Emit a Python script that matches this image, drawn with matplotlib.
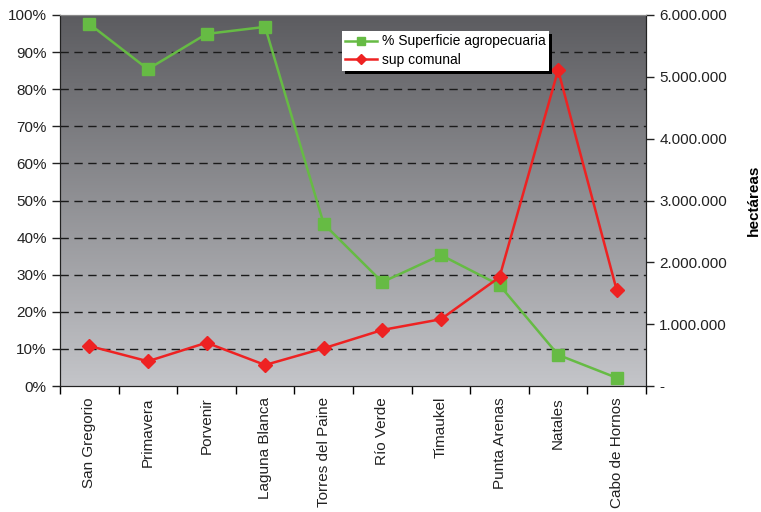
import matplotlib.pyplot as plt
import numpy as np
from matplotlib.ticker import FuncFormatter, MultipleLocator

plt.rcParams['font.family'] = ['Liberation Sans', 'DejaVu Sans']

comunas = ["San Gregorio", "Primavera", "Porvenir", "Laguna Blanca", "Torres del Paine",
           "Río Verde", "Timaukel", "Punta Arenas", "Natales", "Cabo de Hornos"]
pct_agro = [97.6, 85.4, 94.9, 96.8, 43.7, 28.0, 35.3, 27.2, 8.4, 2.2]
sup_comunal = [647000, 400000, 700000, 340000, 610000, 906000, 1080000, 1760000, 5110000, 1550000]

fig = plt.figure(figsize=(7.61, 5.12), dpi=100)
ax = fig.add_axes([60 / 761, 1 - 386 / 512, 586 / 761, 371 / 512])
ax2 = ax.twinx()

x = np.arange(len(comunas))

# gradient background
grad = np.linspace(0, 1, 256).reshape(-1, 1)
top = np.array([92, 92, 96]) / 255
bot = np.array([196, 197, 201]) / 255
img = top + (bot - top) * grad[..., None]
ax.imshow(img, extent=[0, 1, 0, 1], transform=ax.transAxes, aspect='auto', zorder=0)

ax.set_xlim(-0.5, len(comunas) - 0.5)
ax.set_ylim(0, 100)
for v in range(10, 100, 10):
    ax.axhline(v, color='#1a1a1a', lw=1, ls=(0, (6, 4)), zorder=1)

l1, = ax.plot(x, pct_agro, color='#66bb44', marker='s', ms=8, lw=1.8, zorder=3,
              label='% Superficie agropecuaria')
ax2.set_ylim(0, 6000000)
l2, = ax2.plot(x, sup_comunal, color='#ee2222', marker='D', ms=7, lw=1.8, zorder=3,
               label='sup comunal')

ax.yaxis.set_major_locator(MultipleLocator(10))
ax.yaxis.set_major_formatter(FuncFormatter(lambda v, p: f"{int(v)}%"))
ax2.yaxis.set_major_locator(MultipleLocator(1000000))
ax2.yaxis.set_major_formatter(FuncFormatter(
    lambda v, p: "-" if v == 0 else f"{int(v):,}".replace(",", ".")))

ax.set_xticks(x)
ax.set_xticklabels(comunas, rotation=90)
ax.set_xticks(np.arange(-0.5, len(comunas)), minor=True)
ax.tick_params(axis='x', which='major', length=0, pad=8)
ax.tick_params(axis='x', which='minor', length=6, width=1)
ax.tick_params(axis='both', labelsize=11, colors='#222222')
ax.tick_params(axis='y', length=6, width=1)
ax2.tick_params(axis='y', labelsize=11, colors='#222222', length=6, width=1)

for a in (ax, ax2):
    a.spines['top'].set_color('#888888')
    a.spines['left'].set_color('#222222')
    a.spines['right'].set_color('#222222')
    a.spines['bottom'].set_color('#222222')

ax2.set_ylabel("hectáreas", fontsize=11, fontweight='bold', labelpad=14)

ax.set_zorder(ax2.get_zorder() - 1)
ax2.patch.set_visible(False)

leg = ax2.legend(handles=[l1, l2], loc='upper left', bbox_to_anchor=(282 / 586, 1 - 16 / 371),
                 frameon=True, fancybox=False, shadow={'color': 'black', 'alpha': 1, 'ox': 2, 'oy': -2},
                 fontsize=10, borderpad=0.25, borderaxespad=0, handlelength=2.3,
                 handletextpad=0.3, labelspacing=0.35, markerscale=0.7)
leg.get_frame().set_edgecolor('white')
leg.get_frame().set_linewidth(0)

fig.savefig("out.png", dpi=100)
